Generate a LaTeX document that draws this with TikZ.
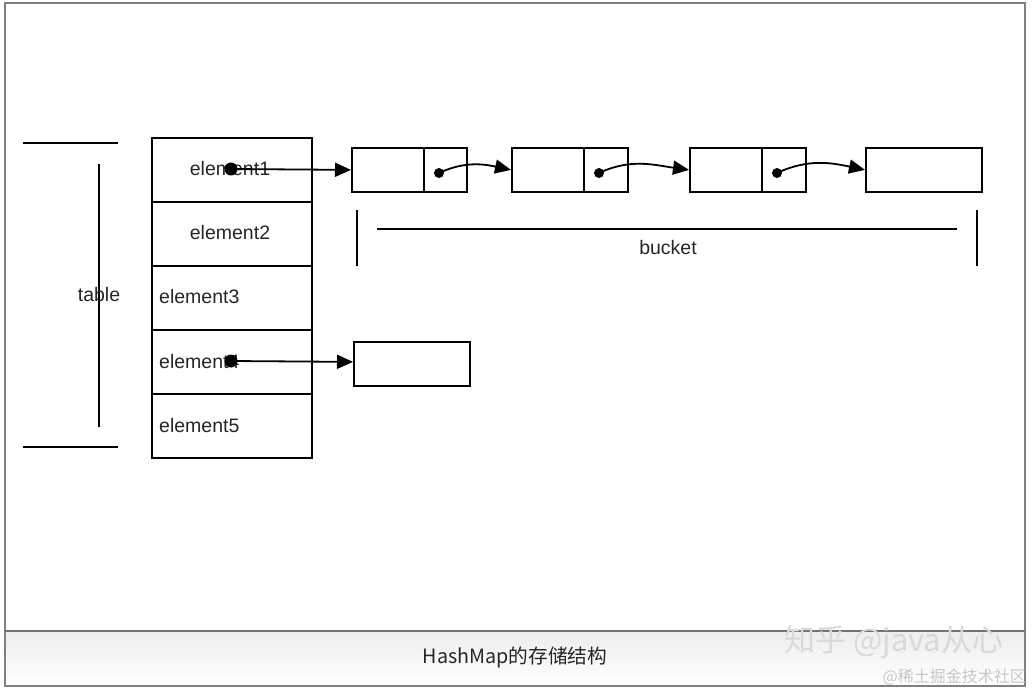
\documentclass[tikz,border=0pt]{standalone}
\usepackage{fontspec}
\setmainfont{Liberation Sans}
\newfontfamily\cjk{Noto Sans CJK SC}
\usetikzlibrary{arrows.meta}
\begin{document}
\begin{tikzpicture}[x=1pt,y=-1pt,
  ln/.style={line width=1.8pt,black},
  cell/.style={draw,line width=1.8pt,minimum width=160pt,minimum height=64pt,inner sep=0pt,anchor=north west},
  part/.style={draw,line width=1.8pt,minimum height=44pt,inner sep=0pt,anchor=north west},
  lbl/.style={font=\fontsize{19.5}{21}\selectfont,text=black!85,inner sep=0pt},
  bigdot/.style={circle,fill=black,minimum size=13pt,inner sep=0pt},
  smalldot/.style={circle,fill=black,minimum size=10pt,inner sep=0pt},
  arr/.style={line width=1.8pt,-{Triangle[length=16pt,width=14pt]}}
]
\useasboundingbox (0,0) rectangle (1032,692);
\fill[white] (0,0) rectangle (1032,692);
% caption bar
\shade[top color=black!7,bottom color=white] (5,631) rectangle (1025,686);
\draw[black!50,line width=1.2pt] (5,3) rectangle (1025,686);
\draw[black!55,line width=2.8pt] (5,631) -- (1025,631);
\node[font=\cjk\fontsize{19.7}{21}\selectfont,text=black!85] (cap) at (515,657) {HashMap的存储结构};
% watermark
\node[font=\cjk\fontsize{31}{33}\selectfont,text=black!15,anchor=west,inner sep=0pt] (wm1) at (784,642) {知乎 @java从心};
\node[font=\cjk\fontsize{16}{18}\selectfont,text=black!22,anchor=east,inner sep=0pt] (wm2) at (1026,677) {@稀土掘金技术社区};
% table cells
\node[cell] (r1) at (151,137) {};
\node[cell] (r2) at (151,201) {};
\node[cell] (r3) at (151,265) {};
\node[cell] (r4) at (151,329) {};
\node[cell] (r5) at (151,393) {};
\node[lbl] (t1) at (230,169) {element1};
\node[lbl] (t2) at (230,233) {element2};
\node[lbl,anchor=west] (t3) at (159,297) {element3};
\node[lbl,anchor=west] (t4) at (159,362) {element4};
\node[lbl,anchor=west] (t5) at (159,426) {element5};
% table bracket
\coordinate (tl1) at (23,143); \coordinate (tl2) at (118,143);
\coordinate (bl1) at (23,447); \coordinate (bl2) at (118,447);
\coordinate (vt) at (99,164); \coordinate (vb) at (99,427);
\draw[ln] (tl1) -- (tl2);
\draw[ln] (bl1) -- (bl2);
\draw[ln] (vt) -- (vb);
\node[lbl] (tbl) at (99,295) {table};
% bucket boxes
\node[part,minimum width=72pt] (b1a) at (351,147) {};
\node[part,minimum width=43pt] (b1b) at (423,147) {};
\node[part,minimum width=72pt] (b2a) at (511,147) {};
\node[part,minimum width=44pt] (b2b) at (583,147) {};
\node[part,minimum width=72pt] (b3a) at (689,147) {};
\node[part,minimum width=44pt] (b3b) at (761,147) {};
\node[part,minimum width=116pt] (b4) at (865,147) {};
\node[part,minimum width=116pt] (b5) at (353,341) {};
% dots
\node[bigdot] (d0) at (231,169) {};
\node[bigdot] (d4) at (231,361) {};
\node[smalldot] (d1) at (439,173) {};
\node[smalldot] (d2) at (599,173) {};
\node[smalldot] (d3) at (777,173) {};
% arrows
\draw[arr] (d0.center) -- (b1a.west);
\draw[arr] (d4.center) -- ([yshift=2pt]b5.west);
\draw[arr] (d1.center) to[out=25,in=168] (b2a.west);
\draw[arr] (d2.center) to[out=25,in=172] (b3a.west);
\draw[arr] (d3.center) to[out=25,in=168] (b4.west);
% bucket bracket
\coordinate (bkl1) at (357,210); \coordinate (bkl2) at (357,266);
\coordinate (bkr1) at (977,210); \coordinate (bkr2) at (977,266);
\coordinate (bkh1) at (377,229); \coordinate (bkh2) at (957,229);
\draw[ln] (bkl1) -- (bkl2);
\draw[ln] (bkr1) -- (bkr2);
\draw[line width=1.5pt] (bkh1) -- (bkh2);
\node[lbl] (bkt) at (668,248) {bucket};
\end{tikzpicture}
\end{document}
